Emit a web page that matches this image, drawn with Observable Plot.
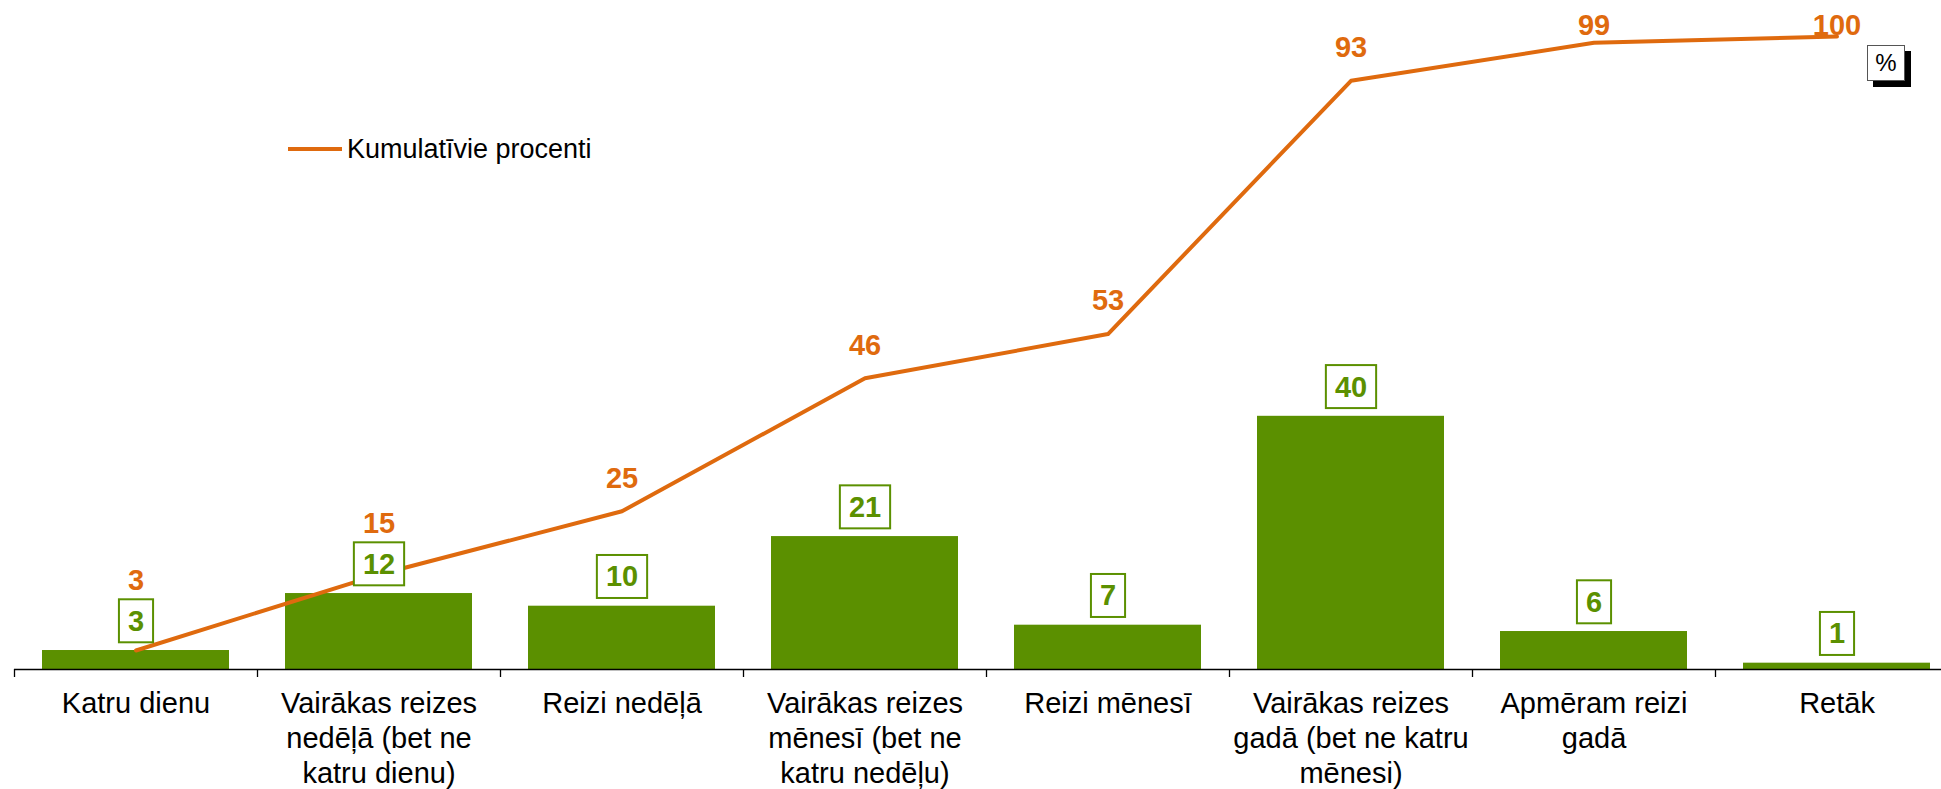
<!DOCTYPE html>
<html>
<head>
<meta charset="utf-8">
<script src="https://cdn.jsdelivr.net/npm/d3@7"></script>
<script src="https://cdn.jsdelivr.net/npm/@observablehq/plot@0.6"></script>
<style>
html, body { margin: 0; padding: 0; background: #fff; overflow: hidden; }
#wrap { position: relative; width: 1941px; height: 789px; font-family: "Liberation Sans", Arial, sans-serif; }
#legend { position: absolute; left: 288px; top: 130px; height: 38px; display: flex; align-items: center; font-size: 27px; color: #000; white-space: nowrap; }
#legend .sw { width: 54px; height: 4px; background: #DF6A0E; margin-right: 5px; }
#unit { position: absolute; left: 1867px; top: 45px; width: 36px; height: 34px; border: 1px solid #555; background: #fff; box-shadow: 6px 6px 0 #000; font-size: 24px; display: flex; align-items: center; justify-content: center; color: #000; }
</style>
</head>
<body>
<div id="wrap">
  <div id="chart"></div>
  <div id="legend"><div class="sw"></div><span>Kumulatīvie procenti</span></div>
  <div id="unit">%</div>
</div>
<script>
// ---- data ----
const categories = [
  "Katru dienu",
  "Vairākas reizes nedēļā (bet ne katru dienu)",
  "Reizi nedēļā",
  "Vairākas reizes mēnesī (bet ne katru nedēļu)",
  "Reizi mēnesī",
  "Vairākas reizes gadā (bet ne katru mēnesi)",
  "Apmēram reizi gadā",
  "Retāk"
];
const tickLabels = [
  "Katru dienu",
  "Vairākas reizes\nnedēļā (bet ne\nkatru dienu)",
  "Reizi nedēļā",
  "Vairākas reizes\nmēnesī (bet ne\nkatru nedēļu)",
  "Reizi mēnesī",
  "Vairākas reizes\ngadā (bet ne katru\nmēnesi)",
  "Apmēram reizi\ngadā",
  "Retāk"
];
const shares = [3, 12, 10, 21, 7, 40, 6, 1];
const cumulative = [3, 15, 25, 46, 53, 93, 99, 100];

// ---- chart ----
const GREEN = "#5B9000";
const ORANGE = "#DF6A0E";
const rows = categories.map((c, i) => ({category: c, share: shares[i], cum: cumulative[i], label: tickLabels[i]}));

const base = {
  width: 1941,
  height: 789,
  marginLeft: 14,
  marginRight: -17,
  marginTop: 36,
  marginBottom: 120,
  style: {fontFamily: '"Liberation Sans", Arial, sans-serif', background: "white", overflow: "visible"},
  x: {type: "band", domain: categories, paddingInner: 0.23, paddingOuter: 0.115, axis: null},
  y: {domain: [0, 100], axis: null}
};

// probe render to get the library's scales
const probe = Plot.plot({...base, marks: [Plot.ruleY([0])]});
const ys = probe.scale("y");
const xs = probe.scale("x");

// cumulative label placement: above the line point, kept clear of the boxed bar label, inside the top
const orangeY = rows.map(r => {
  const above = ys.apply(r.cum) - 33;
  const clearBox = ys.apply(r.share) - 29 - 21.5 - 19;
  return ys.invert(Math.max(25, Math.min(above, clearBox)));
});

const chart = Plot.plot({
  ...base,
  marks: [
    Plot.barY(rows, {x: "category", y: "share", fill: GREEN}),
    Plot.ruleY([0], {stroke: "#000", strokeWidth: 1.3}),
    Plot.ruleX(categories, {x: d => d, y1: 0, y2: ys.invert(ys.apply(0) + 8), dx: -xs.step / 2, stroke: "#000", strokeWidth: 1.3}),
    Plot.axisX({
      tickSize: 0,
      tickPadding: 19,
      fontSize: 29,
      lineHeight: 1.2,
      label: null,
      tickFormat: d => tickLabels[categories.indexOf(d)]
    }),
    Plot.line(rows, {x: "category", y: "cum", stroke: ORANGE, strokeWidth: 4}),
    Plot.text(rows, {
      x: "category",
      y: (d, i) => orangeY[i],
      text: d => String(d.cum),
      fill: ORANGE,
      fontSize: 29,
      fontWeight: "bold",
      lineAnchor: "middle"
    }),
    Plot.text(rows, {
      x: "category",
      y: "share",
      dy: -29,
      text: d => String(d.share),
      fill: GREEN,
      fontSize: 29,
      fontWeight: "bold",
      lineAnchor: "middle"
    })
  ]
});

document.getElementById("chart").appendChild(chart);

// boxes around the bar value labels (the last text mark)
const textGroups = chart.querySelectorAll('g[aria-label="text"]');
const g = textGroups[textGroups.length - 1];
if (g) {
  Array.from(g.querySelectorAll("text")).forEach(t => {
    const b = t.getBBox();
    const cy = b.y + b.height / 2;
    const r = document.createElementNS("http://www.w3.org/2000/svg", "rect");
    r.setAttribute("x", b.x - 9);
    r.setAttribute("y", cy - 21.5);
    r.setAttribute("width", b.width + 18);
    r.setAttribute("height", 43);
    r.setAttribute("fill", "#fff");
    r.setAttribute("stroke", GREEN);
    r.setAttribute("stroke-width", 2);
    const tr = t.getAttribute("transform");
    if (tr) r.setAttribute("transform", tr);
    g.insertBefore(r, t);
  });
}
</script>
</body>
</html>
